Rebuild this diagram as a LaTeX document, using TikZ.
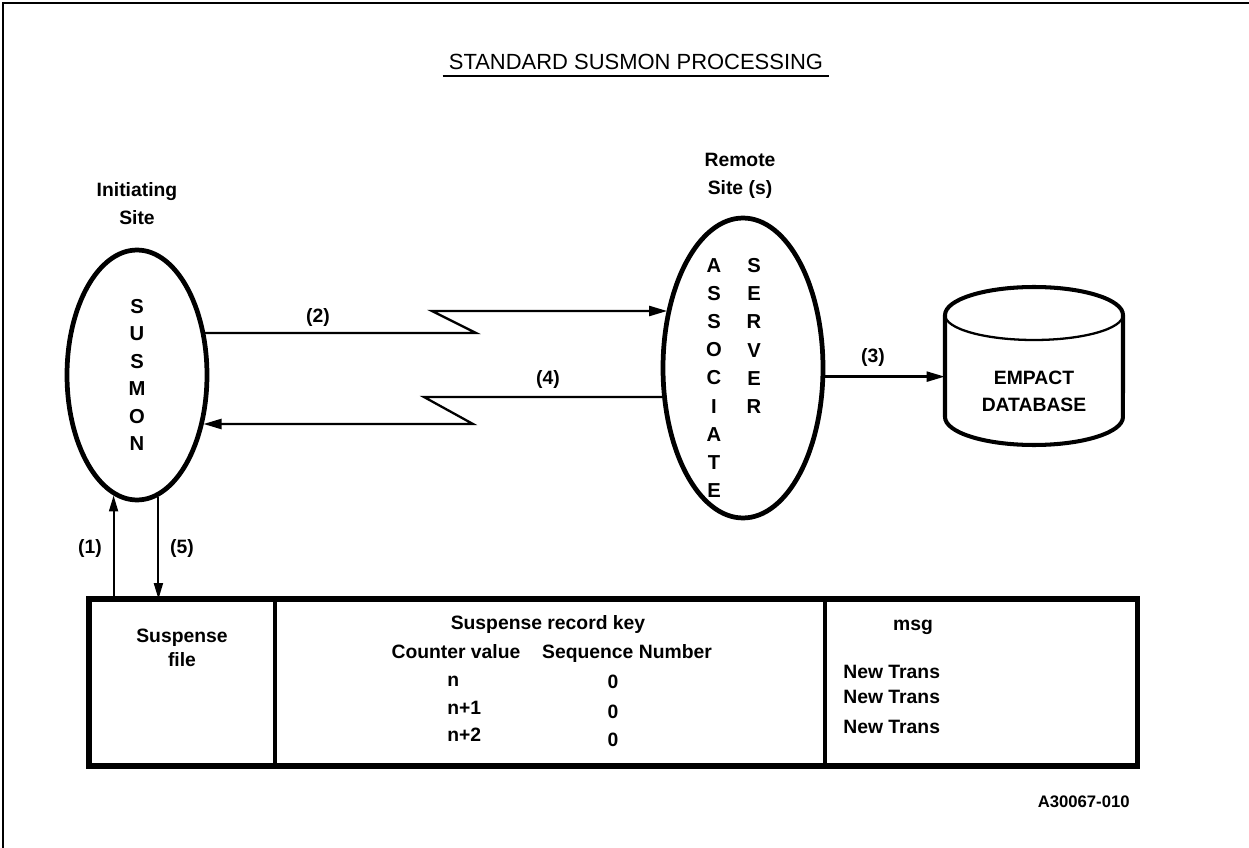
\documentclass[tikz,border=0pt]{standalone}
\usepackage{fontspec}
\setmainfont{Liberation Sans}
\usetikzlibrary{arrows.meta,positioning,shapes.geometric}
\colorlet{susink}{black}
\tikzset{
  susoval/.style={
    ellipse,
    draw=susink,
    line width=2.7pt,
    inner sep=0pt,
    align=center,
    font=\fontsize{11.5}{15.6}\selectfont\bfseries
  },
  susletters/.style={align=center,inner sep=0pt,
                     font=\fontsize{11.5}{16}\selectfont\bfseries},
  sussite/.style={align=center,inner sep=0pt,
                  font=\fontsize{11}{16}\selectfont\bfseries},
  susstep/.style={font=\fontsize{11}{13}\selectfont\bfseries,inner sep=1pt},
  susflow/.style={-{Triangle[length=3.6mm,width=2mm]},line width=1.3pt,susink},
  susfileflow/.style={-{Triangle[length=3.2mm,width=1.8mm]},line width=1.1pt,susink},
  suscell/.style={draw=susink,line width=1.1pt,inner sep=0pt,minimum height=3.3cm},
  suscelltext/.style={font=\fontsize{11}{14}\selectfont\bfseries,align=center,inner sep=0pt},
  susdb/.style={minimum width=3.56cm,inner sep=0pt,align=center,
                font=\fontsize{11}{15.3}\selectfont\bfseries},
  susdbline/.style={line width=2.3pt,susink,line join=round}
}

\begin{document}
\begin{tikzpicture}[x=0.02cm,y=0.02cm]
  \useasboundingbox (0,0) rectangle (1249,-848);
  % frame (top and left edges only)
  \draw[line width=1.5pt,susink] (3,-848) -- (3,-3) -- (1249,-3);

  \node[font=\fontsize{12.5}{14}\selectfont] (title) at (636,-62)
    {STANDARD SUSMON PROCESSING};
  \draw[line width=1.6pt] (title.south west) -- (title.south east);

  % initiating site
  \node[sussite] (initsite) at (137,-204) {Initiating\\Site};
  \node[susoval,minimum width=2.8cm,minimum height=5cm] (susmon) at (137,-375)
    {S\\U\\S\\M\\O\\N};

  % remote site
  \node[sussite] (remsite) at (740,-176) {Remote\\Site (s)};
  \node[susoval,minimum width=3.2cm,minimum height=6cm] (assoc) at (743,-368) {};
  \node[susletters] (assoctxt) at (714,-378) {A\\S\\S\\O\\C\\I\\A\\T\\E};
  \node[susletters] (servtxt) at (754,-336) {S\\E\\R\\V\\E\\R};

  % database
  \node[susdb] (db) at (1034,-391) {EMPACT\\DATABASE};
  \draw[susdbline] (945,-315) -- (945,-417)
    arc[start angle=180,end angle=360,x radius=1.78cm,y radius=0.56cm]
    -- (1123,-315)
    arc[start angle=0,end angle=180,x radius=1.78cm,y radius=0.56cm] -- cycle;
  \draw[line width=1.3pt] (945,-315)
    arc[start angle=180,end angle=360,x radius=1.78cm,y radius=0.5cm];

  % messages between the sites
  \coordinate (z2a) at (476,-333);
  \coordinate (z2b) at (432,-311);
  \draw[susflow] (susmon.32 |- z2a) -- (z2a) -- (z2b) -- (assoc.142 |- z2b);
  \node[susstep] (l2) at (318,-318) {(2)};

  \coordinate (z4a) at (424,-397);
  \coordinate (z4b) at (473,-424);
  \draw[susflow] (assoc.200 |- z4a) -- (z4a) -- (z4b) -- (susmon.-37 |- z4b);
  \node[susstep] (l4) at (548,-380) {(4)};

  \draw[susflow] (assoc.-6.5) -- (assoc.-6.5 -| db.west);
  \node[susstep] (l3) at (873,-358) {(3)};

  % suspense file
  \node[suscell,minimum width=3.68cm] (sfile) at (182,-682.5) {};
  \node[suscell,minimum width=10.96cm,right=0pt of sfile] (skey) {};
  \node[suscell,minimum width=6.22cm,right=0pt of skey] (smsg) {};
  \draw[line width=3pt,susink] (sfile.north west) rectangle (smsg.south east);

  \draw[susfileflow] (susmon.-101 |- sfile.north) -- (susmon.-101);
  \draw[susfileflow] (susmon.-80.5) -- (susmon.-80.5 |- sfile.north);
  \node[susstep] (l1) at (90,-549) {(1)};
  \node[susstep] (l5) at (182,-549) {(5)};

  \node[suscelltext] (sfiletxt) at (182,-648) {Suspense\\file};
  \node[suscelltext] (keyhd) at (548,-625) {Suspense record key};
  \node[suscelltext,anchor=base] (cnthd) at (456,-658) {Counter value};
  \node[suscelltext,anchor=base] (seqhd) at (627,-658) {Sequence Number};
  \foreach \val/\yy [count=\i] in {n/686,n+1/714,n+2/741}
    \node[suscelltext,anchor=base west] (cnt\i) at (447,-\yy) {\val};
  \foreach \yy [count=\i] in {688,718,746}
    \node[suscelltext,anchor=base] (seq\i) at (613,-\yy) {0};
  \node[suscelltext] (msghd) at (913,-627) {msg};
  \foreach \yy [count=\i] in {672,697,727}
    \node[suscelltext,anchor=west] (msg\i) at (843,-\yy) {New Trans};

  \node[anchor=east,inner sep=0pt,font=\fontsize{9.5}{11}\selectfont\bfseries]
    (figid) at (1130,-802) {A30067-010};
\end{tikzpicture}
\end{document}
